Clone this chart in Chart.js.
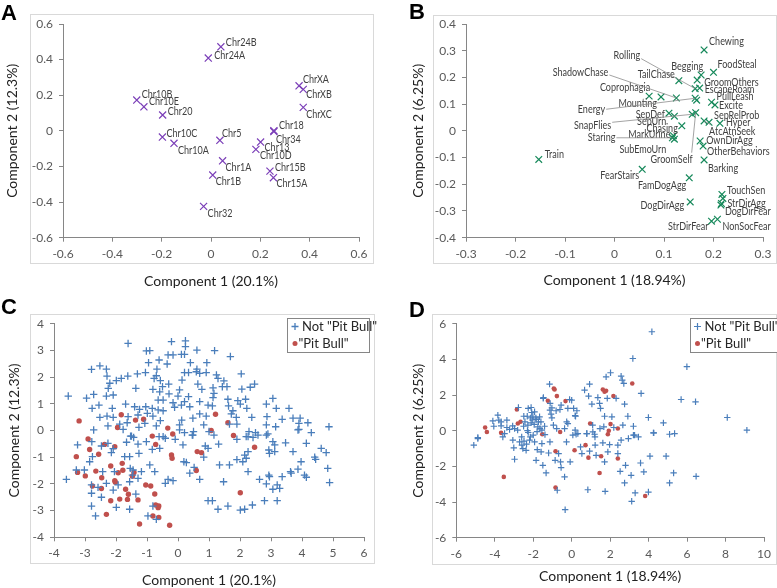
<!DOCTYPE html>
<html>
<head>
<meta charset="utf-8">
<script src="https://cdn.jsdelivr.net/npm/chart.js@4.4.1/dist/chart.umd.min.js"></script>
<style>
  body { margin: 0; background: #fff; width: 777px; height: 588px; position: relative; overflow: hidden; }
  .frame { position: absolute; border: 1px solid #d9d9d9; box-sizing: border-box; }
  canvas { position: absolute; }
  .tag { position: absolute; font: bold 22px 'Liberation Sans', Arial, sans-serif; line-height: 22px; color: #000; }
</style>
</head>
<body>
<div class="frame" style="left:30px;top:14px;width:344px;height:250px"></div>
<div class="frame" style="left:433px;top:15px;width:344px;height:249px"></div>
<div class="frame" style="left:30px;top:314px;width:345px;height:250px"></div>
<div class="frame" style="left:432px;top:314px;width:345px;height:251px"></div>

<canvas id="chartA" width="388" height="290" style="left:0;top:0"></canvas>
<canvas id="chartB" width="389" height="290" style="left:388px;top:0"></canvas>
<canvas id="chartC" width="388" height="298" style="left:0;top:290px"></canvas>
<canvas id="chartD" width="389" height="298" style="left:388px;top:290px"></canvas>

<div class="tag" style="left:1px;top:2px">A</div>
<div class="tag" style="left:409px;top:1px">B</div>
<div class="tag" style="left:1px;top:296px">C</div>
<div class="tag" style="left:409px;top:299px">D</div>

<script>
// ---- A: chromosome loadings ----
const chrNames = ['Chr24B','Chr24A','ChrXA','ChrXB','ChrXC','Chr10B','Chr10E','Chr20','Chr18','Chr34',
  'Chr10C','Chr5','Chr10A','Chr13','Chr10D','Chr1A','Chr15B','Chr15A','Chr1B','Chr32'];
const chrX = [0.040,-0.011,0.357,0.374,0.374,-0.301,-0.272,-0.196,0.255,0.255,
  -0.197,0.036,-0.150,0.201,0.182,0.047,0.239,0.253,0.007,-0.030];
const chrY = [0.472,0.409,0.253,0.233,0.132,0.173,0.135,0.089,0.001,-0.004,
  -0.035,-0.053,-0.070,-0.063,-0.104,-0.168,-0.226,-0.263,-0.248,-0.424];
const ticksA = [-0.6,-0.4,-0.2,0,0.2,0.4,0.6];

// ---- B: behaviour loadings ----
const behNames = ['Chewing','FoodSteal','Begging','TailChase','GroomOthers','EscapeRoam','Rolling','Coprophagia',
  'Mounting','ShadowChase','Energy','','PullLeash','Excite','SepDef','SepUrn','SnapFlies','GroomSelf',
  'SepRelProb','Hyper','AtcAtnSeek','Chasing','MarkUrine','Staring','SubEmoUrn','OwnDirAgg','OtherBehaviors',
  'Barking','FearStairs','FamDogAgg','TouchSen','','StrDirAgg','DogDirFear','DogDirAgg','StrDirFear','NonSocFear','Train'];
const behX = [0.181,0.200,0.175,0.130,0.167,0.172,0.163,0.070,
  0.094,0.125,0.163,0.166,0.196,0.203,0.110,0.121,0.157,0.164,
  0.191,0.213,0.181,0.136,0.119,0.117,0.121,0.173,0.179,
  0.181,0.056,0.151,0.217,0.219,0.216,0.215,0.153,0.196,0.208,-0.153];
const behY = [0.303,0.219,0.209,0.188,0.190,0.160,0.158,0.130,
  0.127,0.123,0.122,0.115,0.107,0.097,0.066,0.055,0.062,0.068,
  0.032,0.028,0.037,0.019,-0.018,-0.026,-0.031,-0.038,-0.057,
  -0.109,-0.144,-0.176,-0.238,-0.253,-0.272,-0.278,-0.266,-0.338,-0.331,-0.107];
const ticksBx = [-0.3,-0.2,-0.1,0,0.1,0.2,0.3];
const ticksBy = [-0.4,-0.3,-0.2,-0.1,0,0.1,0.2,0.3,0.4];

// ---- C: dog scores on chromosome components ----
const cNotPit = [[-1.61,3.26],[-0.21,3.33],[0.24,3.36],[0.24,3.14],[-1.02,2.98],[-0.91,2.99],[-0.32,2.83],[-0.16,2.83],
  [0.11,2.85],[0.21,2.85],[0.61,3.01],[1.18,2.99],[1.69,2.77],[-0.95,2.54],[-0.61,2.64],[-0.68,2.30],[-0.35,2.49],
  [0.40,2.54],[0.93,2.54],[-2.79,2.29],[-2.52,2.42],[-2.31,2.30],[0.61,2.30],[0.59,2.20],[0.21,2.17],[0.34,2.17],
  [0.70,2.14],[0.91,2.17],[1.24,2.08],[2.04,2.12],[-2.29,2.04],[-1.83,1.95],[-1.62,2.04],[-1.31,2.12],[-1.05,2.17],
  [-0.77,1.95],[-0.70,2.05],[0.13,1.89],[1.29,1.95],[1.48,1.86],[-1.99,1.87],[-2.20,1.77],[-0.57,1.87],[-0.30,1.74],
  [0.64,1.74],[1.58,1.64],[2.47,1.74],[2.33,1.62],[-2.25,1.58],[-1.36,1.58],[-0.50,1.64],[-0.81,1.54],[0.05,1.52],
  [0.77,1.54],[1.13,1.60],[1.43,1.64],[2.06,1.55],[-3.54,1.29],[-2.95,1.21],[-2.72,1.35],[-2.31,1.29],[-2.09,1.33],
  [-0.59,1.45],[-0.29,1.37],[0.00,1.29],[0.34,1.27],[1.16,1.39],[1.13,1.23],[-0.48,1.14],[-0.64,1.14],[-0.16,1.04],
  [0.21,1.08],[0.70,1.08],[1.61,1.17],[1.93,1.12],[2.18,1.17],[3.06,1.20],[-2.77,0.83],[-2.55,0.95],[-2.12,0.83],
  [-1.69,0.99],[-1.40,0.89],[-1.24,0.79],[-1.04,0.89],[-0.99,0.64],[-0.83,0.83],[-0.64,0.77],[-0.48,0.74],[-0.11,0.87],
  [0.11,0.95],[0.38,0.89],[0.97,0.95],[1.11,0.92],[1.63,0.92],[1.77,0.74],[2.01,0.99],[2.22,0.83],[2.85,0.99],
  [3.17,0.83],[3.58,0.83],[-2.52,0.49],[-2.29,0.54],[-2.09,0.49],[-1.61,0.52],[-1.29,0.58],[-0.81,0.54],[-0.57,0.37],
  [0.12,0.39],[0.48,0.46],[0.70,0.62],[0.91,0.54],[1.72,0.62],[1.88,0.49],[2.38,0.49],[2.87,0.52],[3.36,0.42],
  [3.71,0.46],[3.94,0.46],[-1.88,0.24],[-1.64,0.29],[-1.07,0.27],[-0.70,0.17],[0.05,0.21],[0.83,0.21],[1.66,0.24],
  [1.90,0.24],[2.85,0.21],[3.15,0.14],[3.90,0.27],[4.19,0.29],[4.87,0.14],[-2.72,0.02],[-2.26,0.17],[-1.77,0.04],
  [-1.26,0.12],[0.05,0.02],[0.21,-0.08],[0.46,-0.17],[1.00,-0.04],[2.29,-0.04],[2.50,-0.08],[3.90,0.04],[4.30,-0.08],
  [2.42,-0.26],[2.85,-0.17],[-1.53,-0.21],[-1.43,-0.26],[-0.48,-0.23],[1.16,-0.17],[2.20,-0.23],
  [-3.24,-0.54],[-2.78,-0.42],[-2.47,-0.58],[-2.26,-0.48],[-2.15,-0.83],[-2.09,-0.68],[-1.66,-0.44],[-1.50,-0.21],
  [-1.29,-0.51],[-1.02,-0.42],[-0.61,-0.23],[-0.41,-0.29],[-0.09,-0.33],[0.16,-0.54],[0.48,-0.17],[0.50,-0.04],
  [0.88,-0.58],[0.97,-0.67],[1.31,-0.51],[1.90,-0.33],[2.26,-0.23],[2.58,-0.17],[2.90,-0.13],[3.06,-0.42],[3.12,-0.54],
  [3.47,-0.46],[3.87,0.02],[4.14,-0.48],[4.62,-0.67],[4.78,-0.83],[-2.76,-0.98],[-2.85,-1.17],[-1.72,-0.98],[-1.56,-0.98],
  [-1.26,-0.86],[-0.83,-0.71],[-0.59,-0.67],[0.19,-1.17],[0.27,-1.20],[0.83,-1.00],[2.20,-1.04],[2.15,-0.92],[2.26,-0.79],
  [2.93,-0.73],[2.95,-0.86],[3.12,-0.79],[3.71,-0.79],[4.41,-1.00],[4.44,-1.08],[-3.28,-1.48],[-3.02,-1.48],[-2.43,-1.54],
  [-2.05,-1.54],[-1.54,-1.42],[-1.45,-1.48],[-1.29,-1.79],[-1.18,-1.54],[-0.91,-1.29],[-0.75,-1.54],[0.38,-1.60],[0.52,-1.38],
  [1.34,-1.29],[1.66,-1.29],[1.90,-1.09],[2.09,-1.17],[2.26,-1.54],[2.93,-1.67],[2.95,-1.73],[3.36,-1.73],[3.63,-1.54],
  [3.65,-1.60],[3.87,-1.45],[3.97,-1.17],[4.08,-1.67],[4.14,-1.75],[4.89,-1.95],[4.83,-1.42],[-3.60,-1.83],[-2.79,-2.04],
  [-2.58,-2.13],[-2.31,-1.98],[-1.93,-2.04],[-1.56,-1.92],[-1.47,-1.67],[-0.41,-1.98],[-0.32,-1.83],[-0.16,-1.88],
  [0.70,-1.83],[1.47,-1.92],[2.63,-1.83],[2.85,-2.00],[3.20,-2.04],[3.06,-2.20],[3.28,-2.17],[-2.79,-2.35],[-2.47,-2.50],
  [-2.09,-2.23],[-1.36,-2.38],[-1.99,-2.88],[-2.79,-2.83],[-2.66,-3.20],[-1.56,-2.95],[-0.81,-2.83],[0.97,-2.63],
  [1.11,-2.63],[1.29,-2.95],[1.61,-2.83],[2.01,-2.98],[2.15,-2.95],[2.40,-2.79],[2.79,-2.63],[3.20,-2.63],[-0.97,-3.20],
  [-0.70,-3.33]];
const cPit = [[-3.19,0.36],[-1.83,0.59],[-1.37,0.39],[-1.11,0.42],[-1.95,0.11],[-0.33,0.09],[1.21,0.61],[1.61,0.29],
  [1.07,0.00],[-0.83,-0.21],[-0.17,-0.13],[1.79,-0.19],[-2.90,-0.32],[-2.85,-0.71],[-3.28,-0.98],[-2.56,-0.89],
  [-2.37,-0.52],[-2.04,-0.61],[-0.72,-0.52],[-0.21,-0.92],[-0.19,-1.04],[0.62,-0.79],[0.76,-0.83],[2.47,-0.63],
  [-3.24,-1.57],[-2.99,-1.70],[-2.65,-1.52],[-2.17,-1.33],[-1.80,-1.23],[-1.78,-1.49],[-2.46,-1.77],[-1.93,-1.58],
  [-2.04,-1.88],[-2.02,-1.94],[-1.42,-1.57],[-1.47,-1.71],[-2.76,-2.08],[-2.47,-2.17],[-1.69,-2.20],[-1.60,-2.39],
  [-1.04,-2.04],[-0.88,-2.08],[-0.75,-2.38],[-2.17,-2.63],[-1.88,-2.57],[-1.63,-2.58],[-1.29,-2.60],[0.59,-1.50],
  [2.01,-2.33],[-2.31,-3.14],[-0.72,-2.79],[-0.62,-2.83],[-0.64,-2.89],[-0.81,-3.20],[-0.62,-3.26],[-1.24,-3.50],
  [-0.27,-3.55]];
const ticksCx = [-4,-3,-2,-1,0,1,2,3,4,5,6];
const ticksCy = [-4,-3,-2,-1,0,1,2,3,4];

// ---- D: dog scores on behaviour components ----
const dNotPit = [[4.17,5.55],[3.18,4.05],[5.99,3.59],[2.02,3.25],[1.79,3.02],[2.57,3.06],[2.63,2.84],[2.71,2.65],
  [-1.15,2.61],[0.93,2.61],[3.61,2.09],[5.69,1.75],[6.44,1.62],[0.67,2.28],[0.88,1.94],[1.36,1.86],[1.85,1.81],
  [2.31,1.81],[2.75,1.49],[1.05,1.49],[1.45,1.53],[1.50,1.25],[-0.11,1.75],[-0.20,1.25],[0.10,1.25],[0.27,1.12],
  [0.20,0.81],[-0.55,1.43],[-1.12,1.53],[-1.47,1.86],[-1.03,1.28],[-0.81,1.12],[-1.07,0.93],[-2.11,1.30],[-1.93,1.06],
  [-2.77,1.30],[-2.49,0.81],[-2.31,0.81],[-2.02,0.81],[-1.85,0.63],[-1.67,0.78],[-3.84,0.87],[-3.79,0.59],[-4.10,0.55],
  [-3.67,0.50],[-3.37,0.59],[-4.05,0.25],[-3.67,0.27],[-3.37,0.18],[-3.23,0.07],[-2.97,0.12],[-4.88,-0.38],[-2.28,0.31],
  [-2.11,0.44],[-1.76,0.22],[-1.55,0.03],[-1.41,0.25],[-0.95,0.31],[-0.37,0.12],[-0.20,0.40],[0.23,-0.20],[1.10,-0.07],
  [1.19,-0.20],[1.67,0.22],[1.71,0.81],[2.09,0.78],[2.19,0.18],[2.66,0.31],[2.92,0.81],[3.21,0.25],[3.21,-0.25],
  [3.47,-0.35],[3.99,0.74],[4.27,-0.12],[4.77,0.44],[5.09,-0.20],[5.35,-0.16],[8.09,0.74],[9.11,0.03],
  [-5.09,-0.81],[-4.88,-0.44],[-3.58,-0.35],[-3.49,-0.16],[-3.06,-0.53],[-3.01,-0.96],[-2.97,-1.60],[-2.71,-0.63],
  [-2.59,-0.81],[-2.54,-1.00],[-2.37,-1.10],[-2.19,-0.53],[-1.93,-0.63],[-1.79,-1.06],[-1.85,-1.66],[-1.59,-1.19],
  [-1.55,-0.72],[-1.50,-1.94],[-1.33,-2.37],[-1.20,-1.25],[-0.86,-1.66],[-0.68,-1.28],[-0.58,-1.75],[-0.55,-2.07],
  [-0.37,-2.59],[-0.27,-0.63],[-0.08,-1.75],[0.06,-0.25],[0.32,-0.16],[0.46,-0.91],[0.53,-1.28],[0.79,-0.16],[0.84,-3.31],
  [0.93,-1.15],[1.22,-0.81],[1.27,-1.38],[1.62,-0.68],[1.71,-1.75],[1.88,-1.19],[1.97,-0.78],[1.74,-3.40],[2.40,-0.81],
  [2.40,-1.28],[2.52,-2.28],[2.57,-0.53],[2.75,-2.93],[2.80,-1.94],[2.95,-0.44],[3.09,-2.50],[3.12,-3.96],[3.30,-3.49],
  [3.27,-0.25],[3.58,-1.81],[3.75,-2.31],[3.99,-3.44],[4.07,-1.43],[4.25,-0.12],[4.91,-1.43],[5.09,-2.93],[5.30,-2.37],
  [6.47,-2.56],[-0.34,-4.43],[-0.75,-3.34],
  [-2.26,1.25],[-2.08,1.02],[-2.13,0.72],[-1.86,0.72],[-1.73,0.50],[-2.43,0.50],[-3.07,0.27],[-2.81,0.03],[-2.60,-0.35],
  [-2.48,-0.59],[-2.26,-0.10],[-2.00,-0.25],[-1.65,0.12],[-1.39,-0.22],[-1.13,-0.63],[-1.03,0.72],[-0.78,0.12],[-0.26,0.50],
  [0.18,0.84],[0.18,0.03],[0.78,-0.16],[1.09,0.31],[1.21,-0.35],[1.47,0.12],[-1.13,1.15],[-1.48,1.81],[-0.61,1.19],
  [0.00,1.71],[-2.30,0.00],[-2.15,-0.35],[-1.95,0.35],[-1.80,-0.05],[-2.50,0.25],[-2.05,0.60],[-1.60,0.50],[-2.35,-0.75]];
const dPit = [[-4.50,0.18],[-4.41,-0.07],[-2.85,1.19],[-2.80,0.40],[-2.66,0.50],[-3.67,-0.12],[-0.93,2.37],[-0.89,2.31],
  [-1.24,1.68],[-0.77,1.94],[-0.32,1.66],[-1.53,-0.20],[-0.60,-0.07],[0.96,0.40],[1.62,2.31],[1.71,2.18],[1.79,2.24],
  [2.17,1.94],[3.15,2.65],[2.02,0.37],[2.40,0.12],[1.93,0.00],[1.88,-0.20],[-0.84,-1.15],[0.15,-1.10],[0.72,-0.81],
  [0.87,-1.51],[1.53,-1.43],[2.40,-1.56],[1.45,-2.37],[-3.53,-2.59],[-0.84,-3.19],[3.82,-3.66]];
const ticksDx = [-6,-4,-2,0,2,4,6,8,10];
const ticksDy = [-6,-4,-2,0,2,4,6];

const legendNames = ['Not "Pit Bull"', '"Pit Bull"'];

// label placement: [dx, dy, align, leaderStartDx, leaderStartDy]
const chrPlace = [[5,-4,'left'],[6,-3,'left'],[4,-6,'left'],[3,5,'left'],[3,7,'left'],[5,-6,'left'],[5,-5,'left'],
  [5,-4,'left'],[5,-5,'left'],[2,8,'left'],[4,-4,'left'],[2,-7,'left'],[4,7,'left'],[4,5,'left'],[4,6,'left'],
  [3,7,'left'],[5,-4,'left'],[3,6,'left'],[3,6,'left'],[4,7,'left']];
const behPlace = [[5,-8,'left'],[4,-8,'left'],[2,-9,'right'],[-4,-6,'right'],[7,2,'left'],[5,1,'left'],
  [-55,-33,'right',1,3],[1,-9,'right'],[-4,7,'right'],[-68,-26,'right',1,3],[-90,11,'right',1,0],null,
  [5,-6,'left'],[4,1,'left'],[-4,1,'right'],[-8,5,'right'],[-81,11,'right',1,-3],[-3,47,'right',-1,-7],
  [5,-7,'left'],[6,-1,'left'],[5,10,'left',2,-6],[-4,3,'right'],[-3,-1,'right'],[-57,0,'right',1,0],
  [-8,10,'right'],[6,-1,'left'],[4,5,'left'],[4,8,'left'],[-3,6,'right'],[-3,8,'right'],[5,-4,'left'],null,
  [6,0,'left'],[4,6,'left'],[-6,4,'right'],[-3,5,'right'],[5,7,'left'],[6,-5,'left']];

const FONT = "Lato, 'Liberation Sans', sans-serif";
const AXIS = '#868686';

const pointLabels = {
  id: 'pointLabels',
  afterDatasetsDraw(chart, args, o) {
    if (!o.names) return;
    const ctx = chart.ctx;
    const pts = chart.getDatasetMeta(0).data;
    ctx.save();
    ctx.font = '11px ' + FONT;
    ctx.textBaseline = 'middle';
    pts.forEach((p, i) => {
      const pl = o.place[i];
      if (!pl || !o.names[i]) return;
      const tx = p.x + pl[0], ty = p.y + pl[1];
      if (pl.length > 3) {
        ctx.strokeStyle = '#8c8c8c';
        ctx.lineWidth = 0.8;
        ctx.beginPath();
        ctx.moveTo(tx + pl[3], ty + pl[4]);
        ctx.lineTo(p.x, p.y);
        ctx.stroke();
      }
      // labels in the original are in a narrow face; squeeze Lato to match
      ctx.save();
      ctx.translate(tx, ty);
      ctx.scale(0.82, 1);
      ctx.fillStyle = '#404040';
      ctx.textAlign = pl[2];
      ctx.fillText(o.names[i], 0, 0);
      ctx.restore();
    });
    ctx.restore();
  }
};

const boxLegend = {
  id: 'boxLegend',
  afterDraw(chart, args, o) {
    if (!o.box) return;
    const {ctx, chartArea} = chart;
    const bx = Math.round(chartArea.right + o.box[0]) + 0.5;
    const by = Math.round(chartArea.top + o.box[1]) + 0.5;
    ctx.save();
    ctx.fillStyle = '#fff';
    ctx.fillRect(bx, by, o.box[2], o.box[3]);
    ctx.strokeStyle = AXIS;
    ctx.lineWidth = 1;
    ctx.strokeRect(bx, by, o.box[2], o.box[3]);
    ctx.font = '13px ' + FONT;
    ctx.textBaseline = 'middle';
    ctx.textAlign = 'left';
    chart.data.datasets.forEach((ds, i) => {
      const y = by + o.rows[i], mx = bx + o.markX;
      if (ds.pointStyle === 'cross') {
        ctx.strokeStyle = ds.borderColor;
        ctx.lineWidth = ds.borderWidth;
        ctx.beginPath();
        ctx.moveTo(mx - 3.5, y); ctx.lineTo(mx + 3.5, y);
        ctx.moveTo(mx, y - 3.5); ctx.lineTo(mx, y + 3.5);
        ctx.stroke();
      } else {
        ctx.fillStyle = ds.backgroundColor;
        ctx.beginPath();
        ctx.arc(mx, y, 2.5, 0, Math.PI * 2);
        ctx.fill();
      }
      ctx.fillStyle = '#262626';
      ctx.fillText(ds.label, bx + o.textX[i], y);
    });
    ctx.restore();
  }
};

function axis(pos, ticks, title, size, titlePad) {
  return {
    type: 'linear',
    position: pos,
    min: ticks[0],
    max: ticks[ticks.length - 1],
    afterBuildTicks: s => { s.ticks = ticks.map(v => ({ value: v })); },
    afterFit: s => { if (pos === 'left') s.width = size; else s.height = size; },
    grid: { drawOnChartArea: false, drawTicks: true, tickLength: 4, color: AXIS },
    border: { display: true, color: AXIS },
    ticks: {
      color: '#595959',
      font: { family: FONT, size: 12 },
      padding: pos === 'left' ? 6 : 5,
      autoSkip: false,
      maxRotation: 0,
      callback: v => String(Math.round(v * 100) / 100)
    },
    title: {
      display: true,
      text: title,
      color: '#222',
      font: { family: FONT, size: 14, lineHeight: 1 },
      padding: pos === 'left' ? { top: titlePad, bottom: 0 } : { top: 0, bottom: titlePad }
    }
  };
}

function scatter(id, datasets, scales, padding, plugins) {
  new Chart(document.getElementById(id), {
    type: 'scatter',
    data: { datasets },
    options: {
      responsive: false,
      animation: false,
      layout: { padding },
      scales,
      plugins: Object.assign({ legend: { display: false }, tooltip: { enabled: false } }, plugins)
    },
    plugins: [pointLabels, boxLegend]
  });
}

const toPts = (xs, ys) => xs.map((x, i) => ({ x, y: ys[i] }));
const pairPts = arr => arr.map(p => ({ x: p[0], y: p[1] }));

scatter('chartA',
  [{ data: toPts(chrX, chrY), pointStyle: 'crossRot', radius: 5, borderWidth: 1.2, borderColor: '#7b3fb8' }],
  { x: axis('bottom', ticksA, 'Component 1 (20.1%)', 52.3, 1.3),
    y: axis('left', ticksA, 'Component 2 (12.3%)', 63, 5) },
  { left: 0, top: 24, right: 29, bottom: 0 },
  { pointLabels: { names: chrNames, place: chrPlace } });

scatter('chartB',
  [{ data: toPts(behX, behY), pointStyle: 'crossRot', radius: 4.7, borderWidth: 1.2, borderColor: '#17895b' }],
  { x: axis('bottom', ticksBx, 'Component 1 (18.94%)', 52.3, 3),
    y: axis('left', ticksBy, 'Component 2 (6.25%)', 58, 3) },
  { left: 20, top: 24, right: 14, bottom: 0 },
  { pointLabels: { names: behNames, place: behPlace } });

scatter('chartC',
  [{ label: legendNames[0], data: pairPts(cNotPit), pointStyle: 'cross', radius: 3.7, borderWidth: 1.3, borderColor: '#4a7ebb' },
   { label: legendNames[1], data: pairPts(cPit), pointStyle: 'circle', radius: 2.7, borderWidth: 0, backgroundColor: '#c0504d' }],
  { x: axis('bottom', ticksCx, 'Component 1 (20.1%)', 50.7, 0.3),
    y: axis('left', ticksCy, 'Component 2 (12.3%)', 54, 7) },
  { left: 0, top: 33.7, right: 24, bottom: 0 },
  { boxLegend: { box: [-77, -5.7, 82, 34], rows: [8, 25], markX: 7.5, textX: [14.5, 11] } });

scatter('chartD',
  [{ label: legendNames[0], data: pairPts(dNotPit), pointStyle: 'cross', radius: 3.2, borderWidth: 1.2, borderColor: '#4a7ebb' },
   { label: legendNames[1], data: pairPts(dPit), pointStyle: 'circle', radius: 2.3, borderWidth: 0, backgroundColor: '#c0504d' }],
  { x: axis('bottom', ticksDx, 'Component 1 (18.94%)', 50.3, 4.3),
    y: axis('left', ticksDy, 'Component 2 (6.25%)', 48.3, 3.5) },
  { left: 20, top: 33.7, right: 13, bottom: 0 },
  { boxLegend: { box: [-74, -5.7, 90, 34], rows: [8, 25], markX: 7, textX: [14, 10.5] } });
</script>
</body>
</html>
